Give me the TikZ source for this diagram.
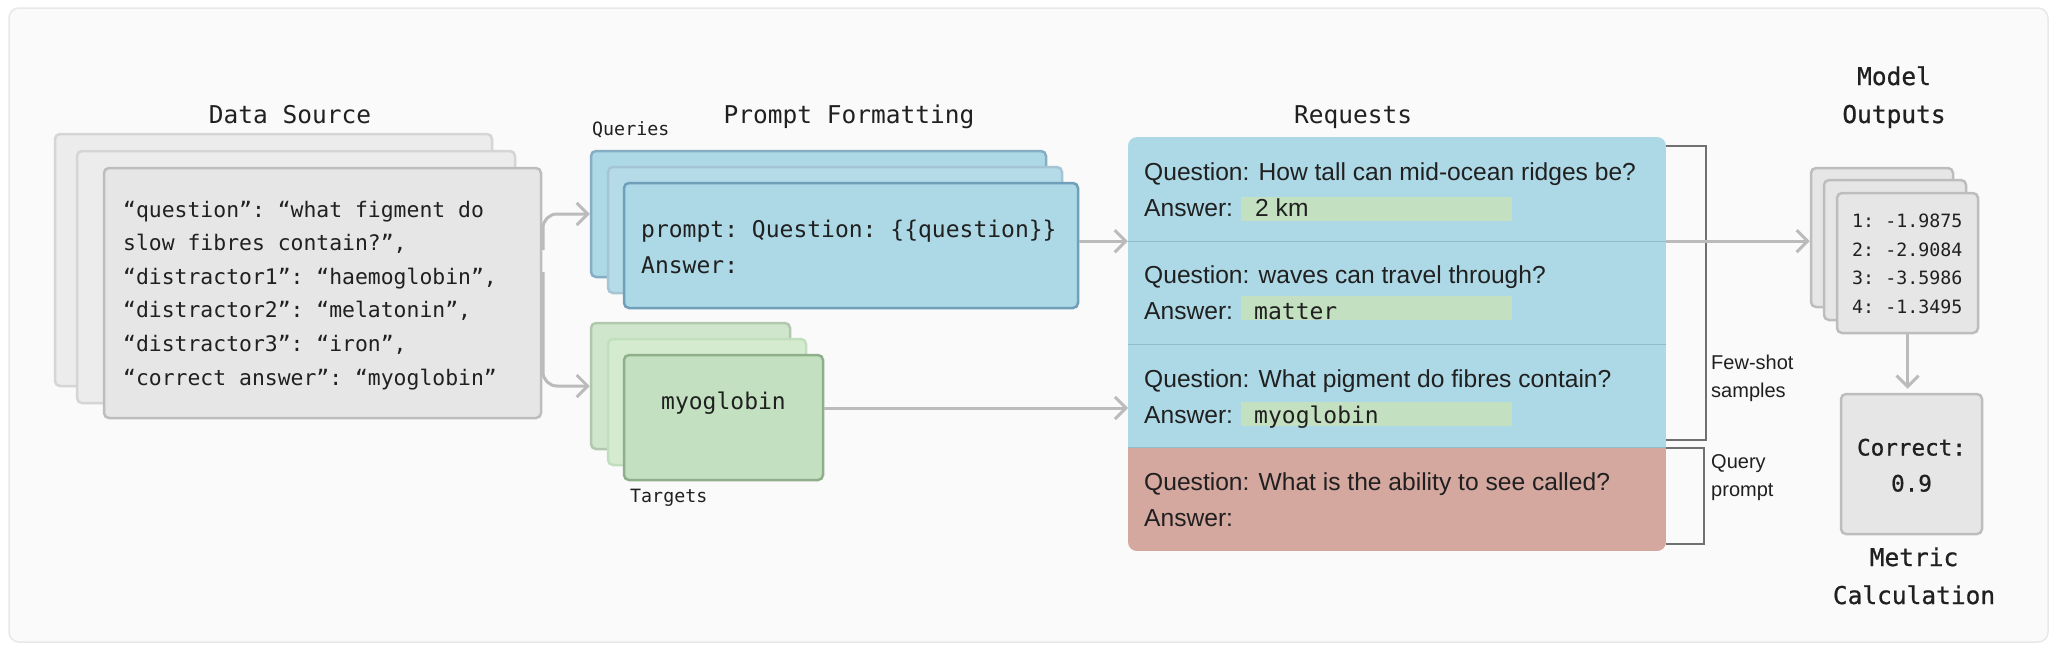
\documentclass[tikz,border=0pt]{standalone}
\usepackage{fontspec}
\setmainfont{Liberation Sans}
\setmonofont{DejaVu Sans Mono}
\newfontfamily\medmono{DejaVu Sans Mono}[FakeBold=0.8]
\usepackage{xcolor}
\usepackage{tikz}
\usetikzlibrary{arrows.meta}

\definecolor{pagebg}{HTML}{FAFAFA}
\definecolor{pageline}{HTML}{E8E8E8}
\definecolor{greyfill}{HTML}{E6E6E6}
\definecolor{greyback}{HTML}{ECECEC}
\definecolor{greyline}{HTML}{BDBDBD}
\definecolor{greylight}{HTML}{D5D5D5}
\definecolor{qblue}{HTML}{ADD8E6}
\definecolor{qbluemid}{HTML}{B5DBE8}
\definecolor{qblueline}{HTML}{6F9FB9}
\definecolor{qbluelight}{HTML}{A5C5D4}
\definecolor{tgreen}{HTML}{C3E1C0}
\definecolor{tgreenback}{HTML}{CFE6CC}
\definecolor{tgreenmid}{HTML}{D4EBCF}
\definecolor{tgreenline}{HTML}{8FAF8B}
\definecolor{tgreenlight}{HTML}{C2DFBD}
\definecolor{qred}{HTML}{D4A79F}
\definecolor{sepline}{HTML}{8EBCCB}
\definecolor{arrowgrey}{HTML}{BBBBBB}
\definecolor{bracketgrey}{HTML}{707070}
\definecolor{ink}{HTML}{202020}

\begin{document}
\begin{tikzpicture}[x=1pt,y=-1pt,
    box/.style={draw, rounded corners=5pt, line width=2.5pt, inner sep=0pt},
    title/.style={font=\fontsize{24.5}{30}\selectfont\ttfamily, text=ink, inner sep=0pt, anchor=base},
    boldtitle/.style={title, font=\fontsize{24.5}{30}\selectfont\medmono},
    codeline/.style={font=\fontsize{21.4}{30}\selectfont\ttfamily, text=ink, inner sep=0pt, anchor=base west},
    promptline/.style={font=\fontsize{23}{30}\selectfont\ttfamily, text=ink, inner sep=0pt, anchor=base west},
    smalltt/.style={font=\fontsize{18.3}{24}\selectfont\ttfamily, text=ink, inner sep=0pt, anchor=base west},
    reqline/.style={font=\fontsize{24.6}{30}\selectfont, text=ink, inner sep=0pt, anchor=base west},
    note/.style={font=\fontsize{20}{24}\selectfont, text=ink, inner sep=0pt, anchor=base west},
    reqpart/.style={inner sep=0pt, minimum width=538pt},
    hilite/.style={fill=tgreen, inner sep=0pt, minimum width=271pt, minimum height=24pt},
    flow/.style={draw=arrowgrey, line width=3pt, -{Straight Barb[length=11pt,width=22pt]}},
    bracket/.style={draw=bracketgrey, line width=1.2pt}]

    % page
    \fill[white] (0,0) rectangle (2064,646);
    \useasboundingbox (0,0) rectangle (2064,646);
    \draw[pageline, fill=pagebg, rounded corners=10pt, line width=1.5pt] (9,8) rectangle (2048,642);

    % titles
    \node[title] (dstitle) at (290,123) {Data Source};
    \node[title] (pftitle) at (849,123) {Prompt Formatting};
    \node[title] (rqtitle) at (1353,123) {Requests};
    \node[boldtitle] (motitle) at (1894,85) {Model};
    \node[boldtitle] (motitleb) at (1894,123) {Outputs};
    \node[boldtitle] (mctitle) at (1914,566) {Metric};
    \node[boldtitle] (mctitleb) at (1914,604) {Calculation};

    % data source stack
    \node[box, fill=greyback, draw=greylight, minimum width=437pt, minimum height=252pt] (src3) at (273.5,260) {};
    \node[box, fill=greyback, draw=greylight, minimum width=438pt, minimum height=252pt] (src2) at (296,277) {};
    \node[box, fill=greyfill, draw=greyline, minimum width=437pt, minimum height=250pt] (src1) at (322.5,293) {};
    \node[codeline] (ds1) at (123,217) {“question”: “what figment do};
    \node[codeline] (ds2) at (123,250.6) {slow fibres contain?”,};
    \node[codeline] (ds3) at (123,284.2) {“distractor1”: “haemoglobin”,};
    \node[codeline] (ds4) at (123,317.8) {“distractor2”: “melatonin”,};
    \node[codeline] (ds5) at (123,351.4) {“distractor3”: “iron”,};
    \node[codeline] (ds6) at (123,385) {“correct answer”: “myoglobin”};

    % queries stack
    \node[smalltt] (qlabel) at (592,135) {Queries};
    \node[box, fill=qblue, draw=qblueline!85, minimum width=455pt, minimum height=126pt] (qry3) at (818.5,214) {};
    \node[box, fill=qbluemid, draw=qbluelight, minimum width=454pt, minimum height=126pt] (qry2) at (835,230) {};
    \node[box, fill=qblue, draw=qblueline, minimum width=454pt, minimum height=125pt] (qry1) at (851,245.5) {};
    \node[promptline] (ptext1) at (641,237) {prompt: Question: \{\{question\}\}};
    \node[promptline] (ptext2) at (641,273) {Answer:};

    % targets stack
    \node[box, fill=tgreenback, draw=tgreenline!70, minimum width=199pt, minimum height=126pt] (tgt3) at (690.5,386) {};
    \node[box, fill=tgreenmid, draw=tgreenlight, minimum width=198pt, minimum height=126pt] (tgt2) at (707,402) {};
    \node[box, fill=tgreen, draw=tgreenline, minimum width=199pt, minimum height=125pt] (tgt1) at (723.5,417.5) {};
    \node[promptline, anchor=base] (tword) at (723.5,409) {myoglobin};
    \node[smalltt] (tlabel) at (630,502) {Targets};

    % requests
    \begin{scope}
        \clip[rounded corners=9pt] (1128,137) rectangle (1666,551);
        \node[reqpart, fill=qblue, minimum height=104pt] (req1) at (1397,189) {};
        \node[reqpart, fill=qblue, minimum height=103pt] (req2) at (1397,292.5) {};
        \node[reqpart, fill=qblue, minimum height=103pt] (req3) at (1397,395.5) {};
        \node[reqpart, fill=qred, minimum height=104pt] (req4) at (1397,499) {};
    \end{scope}
    \draw[sepline, line width=1.2pt] (req1.south west) -- (req1.south east);
    \draw[sepline, line width=1.2pt] (req2.south west) -- (req2.south east);
    \draw[sepline, line width=1.2pt] (req3.south west) -- (req3.south east);

    \node[hilite] (hl1) at (1376.5,209) {};
    \node[hilite] (hl2) at (1376.5,308) {};
    \node[hilite] (hl3) at (1376.5,413.5) {};

    \node[reqline] (q1) at (1144,180) {Question: How tall can mid-ocean ridges be?};
    \node[reqline] (a1) at (1144,216) {Answer:};
    \node[reqline] (v1) at (1255,216) {2 km};
    \node[reqline] (q2) at (1144,283) {Question: waves can travel through?};
    \node[reqline] (a2) at (1144,319) {Answer:};
    \node[promptline] (v2) at (1254,319) {matter};
    \node[reqline] (q3) at (1144,387) {Question: What pigment do fibres contain?};
    \node[reqline] (a3) at (1144,423) {Answer:};
    \node[promptline] (v3) at (1254,423) {myoglobin};
    \node[reqline] (q4) at (1144,490) {Question: What is the ability to see called?};
    \node[reqline] (a4) at (1144,526) {Answer:};

    % brackets
    \draw[bracket] (1666,146) -- (1706,146) -- (1706,440) -- (1666,440);
    \draw[bracket] (1666,448) -- (1704,448) -- (1704,544) -- (1666,544);
    \node[note] (fs1) at (1711,369) {Few-shot};
    \node[note] (fs2) at (1711,397.5) {samples};
    \node[note] (qp1) at (1711,468) {Query};
    \node[note] (qp2) at (1711,496.5) {prompt};

    % model outputs
    \node[box, fill=greyfill, draw=greyline, minimum width=142pt, minimum height=139pt] (out3) at (1882,237.5) {};
    \node[box, fill=greyfill, draw=greyline, minimum width=142pt, minimum height=140pt] (out2) at (1895,250) {};
    \node[box, fill=greyfill, draw=greyline, minimum width=141pt, minimum height=140pt] (out1) at (1907.5,263) {};
    \node[smalltt] (o1) at (1852,227.5) {1: -1.9875};
    \node[smalltt] (o2) at (1852,256.2) {2: -2.9084};
    \node[smalltt] (o3) at (1852,284.9) {3: -3.5986};
    \node[smalltt] (o4) at (1852,313.6) {4: -1.3495};

    % metric
    \node[box, fill=greyfill, draw=greyline, minimum width=141pt, minimum height=140pt] (met) at (1911.5,464) {};
    \node[boldtitle, font=\fontsize{22.6}{30}\selectfont\medmono] (c1) at (1911.5,455.5) {Correct:};
    \node[boldtitle, font=\fontsize{22.6}{30}\selectfont\medmono] (c2) at (1911.5,491.5) {0.9};

    % arrows
    \coordinate (forkup) at (543,250);
    \coordinate (forkdown) at (543,272);
    \coordinate (tgtin) at (1128,408);
    \draw[flow, rounded corners=14pt] (forkup) |- (qry3.west);
    \draw[flow, rounded corners=14pt] (forkdown) |- (tgt3.west);
    \draw[flow] (qry1.east |- req1.south west) -- (req1.south west);
    \draw[flow] (tgt1.east |- tgtin) -- (tgtin);
    \draw[flow] (req1.south east) -- (req1.south east -| out3.west);
    \draw[flow, shorten >=4pt] (out1.south) -- (out1.south |- met.north);
\end{tikzpicture}
\end{document}
